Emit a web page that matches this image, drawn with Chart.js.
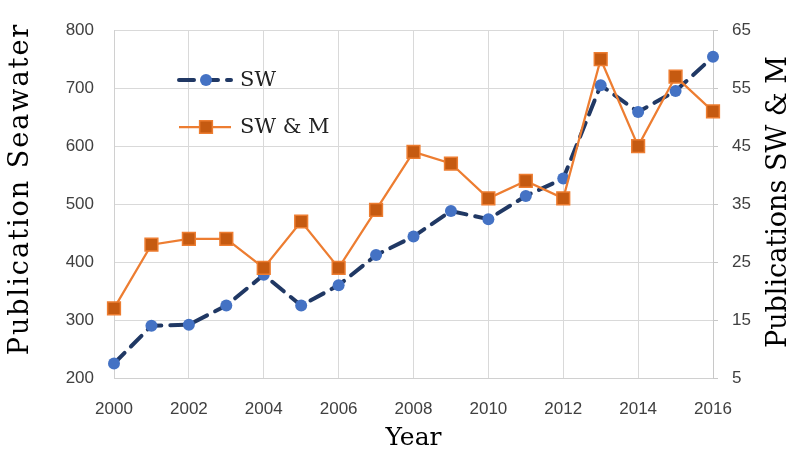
<!DOCTYPE html>
<html>
<head>
<meta charset="utf-8">
<script src="https://cdn.jsdelivr.net/npm/chart.js@4"></script>
<style>
  html, body { margin: 0; padding: 0; background: #fff; }
  #wrap { width: 794px; height: 454px; }
</style>
</head>
<body>
<div id="wrap"><canvas id="myChart" width="794" height="454"></canvas></div>
<script>
const years = [2000, 2001, 2002, 2003, 2004, 2005, 2006, 2007, 2008, 2009, 2010, 2011, 2012, 2013, 2014, 2015, 2016];
const swValues = [225, 290, 292, 325, 378, 325, 360, 412, 444, 488, 474, 514, 544, 705, 659, 695, 754];
const swmValues = [17, 28, 29, 29, 24, 32, 24, 34, 44, 42, 36, 39, 36, 60, 45, 57, 51];
const leftTicks = [200, 300, 400, 500, 600, 700, 800];
const rightTicks = [5, 15, 25, 35, 45, 55, 65];

const serif = '"DejaVu Serif", "Liberation Serif", serif';
const sans = '"Liberation Sans", Arial, sans-serif';

// titles + inner legend drawn by hand, positions
const extras = {
  id: 'extras',
  afterDraw(chart) {
    const ctx = chart.ctx;
    const area = chart.chartArea;
    ctx.save();
    ctx.fillStyle = '#000';
    ctx.textAlign = 'center';
    ctx.textBaseline = 'middle';

    ctx.save();
    ctx.font = '27px ' + serif;
    ctx.letterSpacing = '2px';
    ctx.translate(21, 189);
    ctx.rotate(-Math.PI / 2);
    ctx.fillText('Publication Seawater', 0, 0);
    ctx.restore();

    ctx.save();
    ctx.font = '27px ' + serif;
    ctx.translate(779, 202);
    ctx.rotate(-Math.PI / 2);
    ctx.fillText('Publications SW & M', 0, 0);
    ctx.restore();

    ctx.font = '25px ' + serif;
    ctx.fillText('Year', (area.left + area.right) / 2, 438);

    // legend
    const items = [
      { ds: chart.data.datasets[0], y: 80 },
      { ds: chart.data.datasets[1], y: 127 }
    ];
    items.forEach(function(it) {
      const ds = it.ds;
      ctx.save();
      ctx.strokeStyle = ds.borderColor;
      ctx.lineWidth = ds.borderWidth;
      ctx.lineCap = ds.borderCapStyle || 'butt';
      ctx.setLineDash(ds.borderDash || []);
      ctx.beginPath();
      ctx.moveTo(179, it.y);
      ctx.lineTo(231, it.y);
      ctx.stroke();
      ctx.restore();

      ctx.save();
      ctx.fillStyle = ds.pointBackgroundColor;
      ctx.strokeStyle = ds.pointBorderColor;
      ctx.lineWidth = ds.pointBorderWidth;
      Chart.helpers.drawPoint(ctx, {
        pointStyle: ds.pointStyle,
        radius: ds.pointRadius,
        borderWidth: ds.pointBorderWidth
      }, 206, it.y);
      ctx.restore();

      ctx.fillStyle = '#222';
      ctx.font = '21px ' + serif;
      ctx.textAlign = 'left';
      ctx.fillText(ds.label, 240, it.y + 1);
    });
    ctx.restore();
  }
};

window.onload = function() {
  const data = {
    datasets: [{
      label: 'SW',
      data: years.map((y, i) => ({ x: y, y: swValues[i] })),
      yAxisID: 'y',
      borderColor: '#203864',
      borderWidth: 4,
      borderDash: [15, 9],
      borderCapStyle: 'round',
      pointStyle: 'circle',
      pointRadius: 6,
      pointBackgroundColor: '#4472c4',
      pointBorderColor: '#4472c4',
      pointBorderWidth: 0,
      tension: 0,
      clip: false,
      order: 2
    }, {
      label: 'SW & M',
      data: years.map((y, i) => ({ x: y, y: swmValues[i] })),
      yAxisID: 'y2',
      borderColor: '#ed7d31',
      borderWidth: 2.25,
      pointStyle: 'rect',
      pointRadius: 9,
      pointBackgroundColor: '#c55a11',
      pointBorderColor: '#ed7d31',
      pointBorderWidth: 1.5,
      tension: 0,
      clip: false,
      order: 1
    }]
  };

  const config = {
    type: 'line',
    data: data,
    options: {
      responsive: false,
      animation: false,
      layout: { padding: { top: 25, left: 0, right: 0, bottom: 0 } },
      plugins: {
        legend: { display: false },
        tooltip: { enabled: false }
      },
      scales: {
        x: {
          type: 'linear',
          min: 2000,
          max: 2016,
          afterFit: function(s) { s.height = 76; },
          grid: { color: '#d9d9d9', drawTicks: false },
          border: { color: '#d0d0d0' },
          ticks: {
            stepSize: 2,
            padding: 21,
            color: '#404040',
            font: { family: sans, size: 17 },
            callback: function(v) { return String(v); }
          }
        },
        y: {
          position: 'left',
          min: 200,
          max: 800,
          afterFit: function(s) { s.width = 114; },
          grid: { color: '#d9d9d9', drawTicks: false },
          border: { color: '#d0d0d0' },
          afterBuildTicks: function(s) { s.ticks = leftTicks.map(v => ({ value: v })); },
          ticks: {
            padding: 20,
            color: '#404040',
            font: { family: sans, size: 17 }
          }
        },
        y2: {
          position: 'right',
          min: 5,
          max: 65,
          afterFit: function(s) { s.width = 81; },
          grid: { drawOnChartArea: false, color: '#c8c8c8', tickLength: 5 },
          border: { color: '#c8c8c8' },
          afterBuildTicks: function(s) { s.ticks = rightTicks.map(v => ({ value: v })); },
          ticks: {
            padding: 14,
            color: '#404040',
            font: { family: sans, size: 17 }
          }
        }
      }
    },
    plugins: [extras]
  };

  const ctx = document.getElementById('myChart').getContext('2d');
  const myChart = new Chart(ctx, config);
};
</script>
</body>
</html>
